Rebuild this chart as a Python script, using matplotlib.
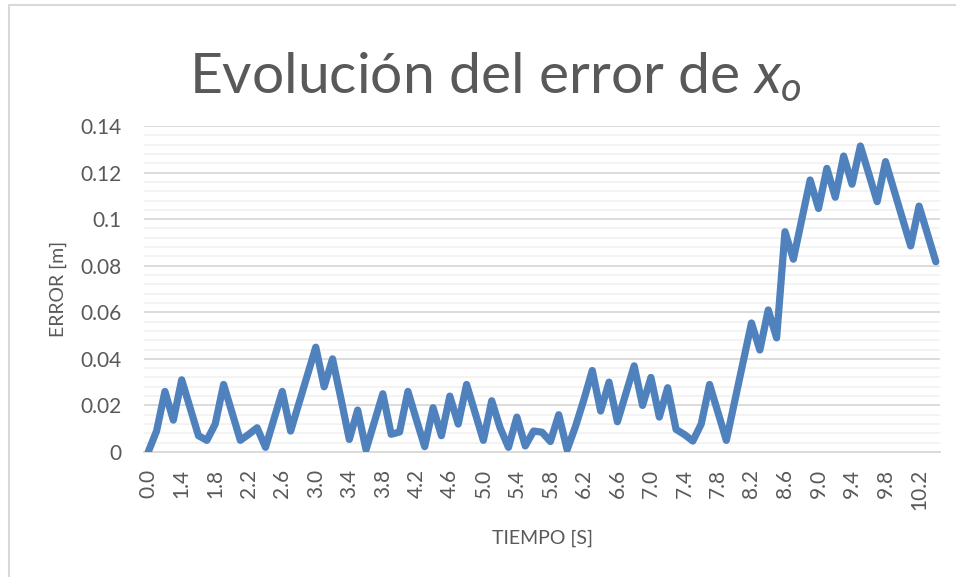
import matplotlib
matplotlib.use("Agg")
import matplotlib.pyplot as plt
from matplotlib.lines import Line2D
from matplotlib.ticker import MultipleLocator
import numpy as np

# error sampled once per time step
errors = [
    0.0, 0.009, 0.026, 0.0137, 0.031, 0.019, 0.007, 0.005, 0.012, 0.029,
    0.017, 0.005, 0.0076, 0.0104, 0.002, 0.014, 0.026, 0.009, 0.021, 0.033,
    0.045, 0.028, 0.040, 0.023, 0.0054, 0.018, 0.001, 0.013, 0.025, 0.0076,
    0.0086, 0.026, 0.014, 0.0023, 0.019, 0.007, 0.024, 0.012, 0.029, 0.017,
    0.005, 0.022, 0.0104, 0.002, 0.015, 0.0026, 0.009, 0.0085, 0.0045, 0.016,
    0.001, 0.011, 0.0225, 0.035, 0.0176, 0.030, 0.013, 0.025, 0.037, 0.020,
    0.032, 0.015, 0.0276, 0.0097, 0.0075, 0.0047, 0.012, 0.029, 0.017, 0.005,
    0.0218, 0.0386, 0.0554, 0.0438, 0.061, 0.049, 0.0946, 0.0828, 0.0998, 0.1168,
    0.1046, 0.1218, 0.1094, 0.1271, 0.115, 0.1314, 0.1195, 0.1075, 0.1247, 0.1126,
    0.1005, 0.0885, 0.1056, 0.0937, 0.0817,
]
time_labels = ["0.0", "1.4", "1.8", "2.2", "2.6", "3.0", "3.4", "3.8", "4.2",
               "4.6", "5.0", "5.4", "5.8", "6.2", "6.6", "7.0", "7.4", "7.8",
               "8.2", "8.6", "9.0", "9.4", "9.8", "10.2"]
label_every = 4
y_ticks = [0, 0.02, 0.04, 0.06, 0.08, 0.10, 0.12, 0.14]
y_tick_labels = ["0", "0.02", "0.04", "0.06", "0.08", "0.1", "0.12", "0.14"]

TXT = "#595959"
plt.rcParams["font.family"] = ["Lato", "DejaVu Sans"]
plt.rcParams["mathtext.fontset"] = "custom"
plt.rcParams["mathtext.rm"] = "Lato"
plt.rcParams["mathtext.it"] = "Lato:italic"

W, H = 956, 577
fig = plt.figure(figsize=(W / 100, H / 100), dpi=100)

# chart frame (only top/left edges are in view)
fig.add_artist(Line2D([9 / W, 9 / W, 1], [0, 1 - 5 / H, 1 - 5 / H],
                      transform=fig.transFigure, color="#D9D9D9", lw=1.5))

ax = fig.add_axes([144 / W, (H - 452) / H, (940 - 144) / W, (452 - 126) / H])

x = np.arange(len(errors))
ax.plot(x, errors, color="#4F81BD", lw=5.2, solid_joinstyle="round",
        solid_capstyle="round", zorder=3)

ax.set_xlim(-0.5, len(errors) - 0.5)
ax.set_ylim(0, 0.14)
ax.set_yticks(y_ticks)
ax.set_yticklabels(y_tick_labels)
ax.yaxis.set_minor_locator(MultipleLocator(0.004))
ax.grid(which="major", axis="y", color="#D9D9D9", lw=1.3)
ax.grid(which="minor", axis="y", color="#F2F2F2", lw=1.3)
ax.set_axisbelow(True)

ax.set_xticks(x[::label_every])
ax.set_xticklabels(time_labels, rotation=90)

for side in ["top", "right", "left"]:
    ax.spines[side].set_visible(False)
ax.spines["bottom"].set_color("#D9D9D9")
ax.spines["bottom"].set_linewidth(1.3)

ax.tick_params(axis="both", which="both", length=0, colors=TXT, labelsize=15)
ax.tick_params(axis="y", pad=16)
ax.tick_params(axis="x", pad=12)

ax.set_ylabel("ERROR [m]", color=TXT, fontsize=14, labelpad=10)
ax.set_xlabel("TIEMPO [S]", color=TXT, fontsize=14, labelpad=14)

fig.text(495 / W, 1 - 93 / H, "Evolución del error de $x_o$", ha="center",
         va="baseline", fontsize=41, color=TXT)

fig.savefig("out.png", dpi=100, facecolor="white")
